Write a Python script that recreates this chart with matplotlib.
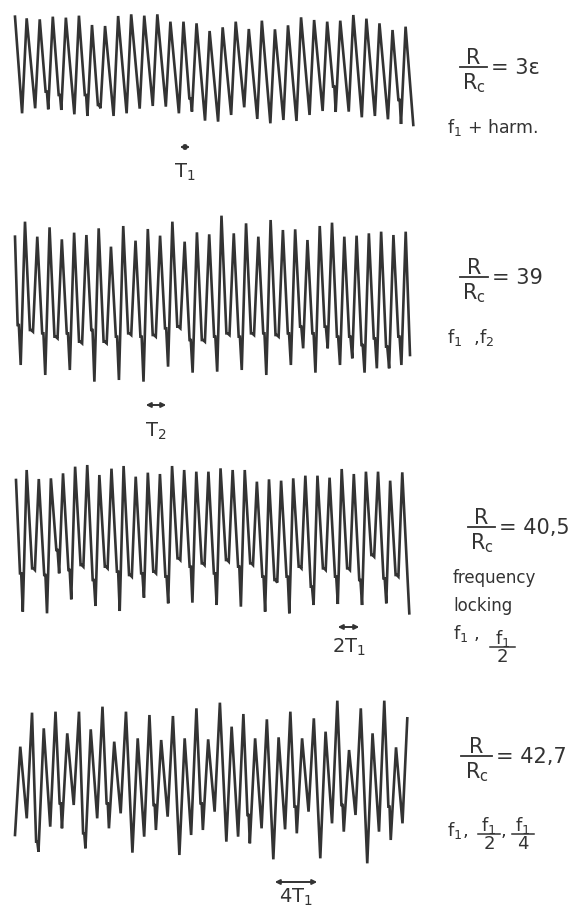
import matplotlib
matplotlib.use("Agg")
import matplotlib.pyplot as plt
from matplotlib.lines import Line2D
from matplotlib.patches import FancyArrowPatch

# recorder traces: one peak / trough (/ shoulder) per cycle, arbitrary units
r36_start = 350
r36_peaks = [345, 342, 350, 347, 353, 325, 322, 352, 357, 353, 357, 335, 335, 330, 307,
             318, 335, 313, 338, 312, 324, 348, 340, 335, 338, 355, 344, 330, 310, 320]
r36_troughs = [60, 75, 72, 70, 57, 52, 75, 52, 60, 74, 82, 80, 60, 65, 38,
               35, 55, 78, 43, 30, 40, 37, 55, 67, 64, 65, 48, 52, 42, 28]
r36_shoulders = [0, 0, 125, 115, 0, 115, 85, 0, 0, 0, 0, 0, 0, 105, 0,
                 0, 0, 0, 0, 0, 0, 0, 0, 0, 140, 0, 0, 0, 0, 100]
r36_end = [25]

r39_start = 460
r39_peaks = [505, 460, 488, 452, 472, 465, 485, 430, 492, 448, 483, 463, 505, 445, 473, 467,
             523, 470, 500, 460, 510, 480, 482, 450, 492, 502, 460, 463, 470, 475, 465, 475]
r39_troughs = [75, 175, 45, 155, 60, 140, 25, 140, 30, 165, 25, 160, 70, 185, 52, 145,
               55, 165, 60, 165, 45, 160, 75, 125, 52, 125, 75, 95, 52, 65, 65, 75]
r39_shoulders = [195, 180, 170, 160, 170, 145, 180, 145, 160, 170, 160, 165, 185, 190, 150, 150,
                 160, 170, 160, 170, 170, 165, 170, 190, 170, 190, 160, 160, 135, 155, 130, 160]
r39_end = [105]

r405_start = 420
r405_peaks = [450, 423, 425, 440, 460, 465, 435, 454, 462, 430, 442, 438, 462, 450, 445, 445,
              455, 450, 450, 415, 422, 418, 425, 433, 433, 427, 453, 438, 445, 445, 418, 443]
r405_troughs = [25, 150, 20, 140, 62, 160, 42, 155, 27, 130, 67, 140, 50, 180, 52, 165,
                45, 175, 40, 165, 25, 112, 20, 155, 45, 150, 48, 150, 45, 190, 50, 130]
r405_shoulders = [140, 155, 135, 210, 150, 165, 120, 160, 145, 135, 140, 145, 130, 185, 160, 170,
                  140, 180, 160, 170, 130, 120, 130, 160, 100, 155, 130, 155, 120, 195, 125, 135]
r405_end = [20]

r427_peaks = [370, 472, 425, 475, 410, 475, 422, 490, 385, 475, 395, 465, 390, 462, 395, 485, 392,
              502, 430, 468, 395, 452, 398, 475, 395, 455, 415, 508, 360, 485, 410, 508, 368]
r427_troughs = [105, 155, 55, 130, 125, 195, 65, 155, 125, 170, 52, 100, 120, 160, 45, 105, 120,
                175, 85, 100, 80, 125, 32, 122, 110, 175, 35, 140, 115, 165, 20, 115, 90]
r427_shoulders = [0, 0, 85, 0, 200, 0, 110, 0, 200, 0, 0, 0, 195, 0, 0, 0, 200,
                  0, 0, 0, 165, 0, 0, 0, 190, 0, 0, 0, 195, 0, 0, 0, 190]
r427_end = [140, 455]

ratio_values = ["3\u03b5", "39", "40,5", "42,7"]

W, H = 578, 907
INK = "#333333"
FONT = "DejaVu Sans"


def trace_points(peaks, troughs, shoulders, start, end, t_start, t_end, sh_phase, tr_phase):
    t, v = [], []
    if start is not None:
        t.append(t_start)
        v.append(start)
    for k in range(len(peaks)):
        if shoulders[k]:
            t += [k + sh_phase, k + sh_phase + 0.1]
            v += [shoulders[k], shoulders[k]]
        t.append(k + tr_phase)
        v.append(troughs[k])
        t.append(k + 1)
        v.append(peaks[k])
    if len(end) == 2:
        t.append(len(peaks) + tr_phase)
        v.append(end[0])
    t.append(t_end)
    v.append(end[-1])
    return t, v


def place(fig, left, top, right, bottom):
    ax = fig.add_axes([left / W, 1 - bottom / H, (right - left) / W, (bottom - top) / H])
    ax.set_axis_off()
    return ax


def ftxt(fig, x, y, s, size, ha="left", va="baseline"):
    fig.text(x / W, 1 - y / H, s, fontsize=size, ha=ha, va=va, color=INK, family=FONT)


def hbar(fig, x0, x1, y, lw=1.3):
    fig.add_artist(Line2D([x0 / W, x1 / W], [1 - y / H, 1 - y / H], color=INK, lw=lw))


def ratio(fig, x0, x1, y, value):
    xc = (x0 + x1) / 2
    ftxt(fig, xc, y - 3, "R", 15, ha="center")
    hbar(fig, x0, x1, y)
    ftxt(fig, xc, y + 22, r"R$_{\mathregular{c}}$", 15, ha="center")
    ftxt(fig, x1 + 4, y + 7, "= " + value, 15)


def frac(fig, x0, x1, y, num, den, size=13):
    xc = (x0 + x1) / 2
    ftxt(fig, xc, y - 3, num, size, ha="center")
    hbar(fig, x0, x1, y, lw=1.1)
    ftxt(fig, xc, y + 15, den, size, ha="center")


def period(fig, x0, x1, y, label, ty):
    fig.add_artist(FancyArrowPatch((x0 / W, 1 - y / H), (x1 / W, 1 - y / H),
                                   transform=fig.transFigure, arrowstyle="<|-|>",
                                   mutation_scale=7, color=INK, lw=1.4))
    ftxt(fig, (x0 + x1) / 2, ty, label, 14, ha="center")


fig = plt.figure(figsize=(W / 100, H / 100), dpi=100)
fig.patch.set_facecolor("white")

traces = [
    (r36_peaks, r36_troughs, r36_shoulders, r36_start, r36_end, 0.107, 30.59, 0.45, 0.65,
     (15, 0, 413.3, 133.3), 400),
    (r39_peaks, r39_troughs, r39_shoulders, r39_start, r39_end, 0.186, 32.35, 0.40, 0.65,
     (15, 190, 410, 390), 600),
    (r405_peaks, r405_troughs, r405_shoulders, r405_start, r405_end, 0.12, 32.58, 0.45, 0.68,
     (16, 410, 409.3, 620), 630),
    (r427_peaks, r427_troughs, r427_shoulders, None, r427_end, 0.55, 33.96, 0.35, 0.55,
     (15, 620, 407.3, 870), 750),
]

for peaks, troughs, shoulders, start, end, t0, t1, shp, trp, box, top in traces:
    t, v = trace_points(peaks, troughs, shoulders, start, end, t0, t1, shp, trp)
    ax = place(fig, *box)
    ax.plot(t, v, color=INK, lw=1.9, solid_joinstyle="miter", clip_on=False)
    ax.set_xlim(t0, t1)
    ax.set_ylim(0, top)

# right-hand labels
ratio(fig, 460, 487, 67, ratio_values[0])
ftxt(fig, 447, 133, r"f$_{\mathregular{1}}$ + harm.", 12.5)

ratio(fig, 460, 488, 277, ratio_values[1])
ftxt(fig, 447, 343, r"f$_{\mathregular{1}}$  ,f$_{\mathregular{2}}$", 13)

ratio(fig, 468, 495, 527, ratio_values[2])
ftxt(fig, 453, 583, "frequency", 12)
ftxt(fig, 453, 611, "locking", 12)
ftxt(fig, 453, 639, r"f$_{\mathregular{1}}$ ,", 13)
frac(fig, 490, 515, 647, r"f$_{\mathregular{1}}$", "2")

ratio(fig, 461, 492, 756, ratio_values[3])
ftxt(fig, 447, 836, r"f$_{\mathregular{1}}$,", 13)
frac(fig, 478, 500, 834, r"f$_{\mathregular{1}}$", "2")
ftxt(fig, 501, 836, ",", 13)
frac(fig, 512, 534, 834, r"f$_{\mathregular{1}}$", "4")

# period markers
period(fig, 177, 193, 147, r"T$_{\mathregular{1}}$", 178)
period(fig, 143, 169, 405, r"T$_{\mathregular{2}}$", 437)
period(fig, 335, 362, 627, r"2T$_{\mathregular{1}}$", 653)
period(fig, 272, 320, 882, r"4T$_{\mathregular{1}}$", 903)

fig.savefig("out.png", dpi=100, facecolor="white")
